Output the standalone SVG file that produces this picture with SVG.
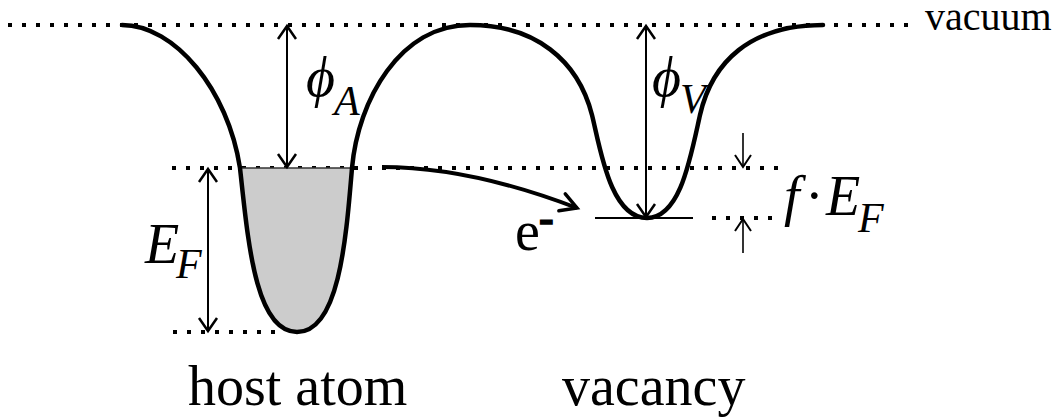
<svg xmlns="http://www.w3.org/2000/svg" width="1061" height="420" viewBox="0 0 1061 420">
<style>
.dot{fill:none;stroke:#000;stroke-width:4;stroke-dasharray:4 10}
.curve{fill:none;stroke:#000;stroke-width:4.5;stroke-linecap:round;stroke-linejoin:round}
.arr{fill:none;stroke:#000;stroke-width:2}
.thin{fill:none;stroke:#000;stroke-width:1.6}
.t{font-family:"Liberation Serif","Times New Roman",serif;fill:#000}
.i{font-family:"Liberation Serif","Times New Roman",serif;font-style:italic}
</style>
<defs>
<marker id="ah" markerUnits="userSpaceOnUse" viewBox="-16 -12 20 24" refX="0" refY="0" markerWidth="20" markerHeight="24" orient="auto-start-reverse" overflow="visible">
<path d="M-13,-9 L0,0 L-13,9" fill="none" stroke="#000" stroke-width="2.5"/>
</marker>
<marker id="ahs" markerUnits="userSpaceOnUse" viewBox="-16 -12 20 24" refX="0" refY="0" markerWidth="20" markerHeight="24" orient="auto" overflow="visible">
<path d="M-12,-8 L0,0 L-12,8" fill="none" stroke="#000" stroke-width="2"/>
</marker>
<marker id="ahe" markerUnits="userSpaceOnUse" viewBox="-20 -12 24 24" refX="0" refY="0" markerWidth="24" markerHeight="24" orient="auto" overflow="visible">
<path d="M-16,-9 L0,0 L-16,9" fill="none" stroke="#000" stroke-width="3.5" stroke-linecap="round"/>
</marker>
</defs>
<g id="levels">
<line class="dot" x1="8" y1="25" x2="912" y2="25"/>
<line class="dot" x1="172" y1="168" x2="780" y2="168"/>
<line class="dot" x1="173" y1="332" x2="280" y2="332"/>
<line class="dot" x1="712" y1="218" x2="776" y2="218"/>
</g>
<g id="host-atom">
<path d="M240,168 C248,240 255,332 297,332 C339,332 346,240 352,168 Z" fill="#cccccc"/>
<line x1="240" y1="168" x2="352" y2="168" stroke="#333" stroke-width="1.5"/>
</g>
<g id="potential">
<path class="curve" d="M122,25 C175,25 228,90 240,168 C248,240 255,332 297,332 C339,332 346,240 352,168 C358,100 400,25 470,25 C535,25 578,60 592,115 C600,147 610,218 647,218 C680,218 690,160 700,115 C712,62 750,25 823,25"/>
</g>
<g id="vacancy-level">
<line x1="595" y1="218" x2="693" y2="218" stroke="#000" stroke-width="2"/>
</g>
<g id="connectors">
<line class="arr" x1="287" y1="26" x2="287" y2="167" marker-start="url(#ah)" marker-end="url(#ah)"/>
<line class="arr" x1="208" y1="169" x2="208" y2="331" marker-start="url(#ah)" marker-end="url(#ah)"/>
<line class="arr" x1="646" y1="26" x2="646" y2="217" marker-start="url(#ah)" marker-end="url(#ah)"/>
<line class="thin" x1="743" y1="133" x2="743" y2="167" marker-end="url(#ahs)"/>
<line class="thin" x1="743" y1="253" x2="743" y2="219" marker-end="url(#ahs)"/>
<path d="M382,167 Q470,167 577,208" fill="none" stroke="#000" stroke-width="4" marker-end="url(#ahe)"/>
</g>
<g id="labels">
<text class="t" x="925" y="30" font-size="40">vacuum</text>
<text class="t" font-size="56"><tspan class="i" x="306" y="96">ϕ</tspan><tspan class="i" x="334" y="115" font-size="42">A</tspan></text>
<text class="t" font-size="56"><tspan class="i" x="652" y="96">ϕ</tspan><tspan class="i" x="680" y="113" font-size="42">V</tspan></text>
<text class="t" font-size="56"><tspan class="i" x="145" y="263">E</tspan><tspan class="i" x="176" y="278" font-size="42">F</tspan></text>
<text class="t" font-size="56"><tspan x="515" y="250">e</tspan><tspan x="539" y="233" font-size="44" font-weight="bold" stroke="#000" stroke-width="1.5">-</tspan></text>
<text class="t" font-size="56"><tspan class="i" x="784" y="215">f</tspan><tspan x="805" y="215">·</tspan><tspan class="i" x="826" y="215">E</tspan><tspan class="i" x="858" y="232" font-size="42">F</tspan></text>
<text class="t" x="188" y="405" font-size="56">host atom</text>
<text class="t" x="562" y="405" font-size="56">vacancy</text>
</g>
</svg>
